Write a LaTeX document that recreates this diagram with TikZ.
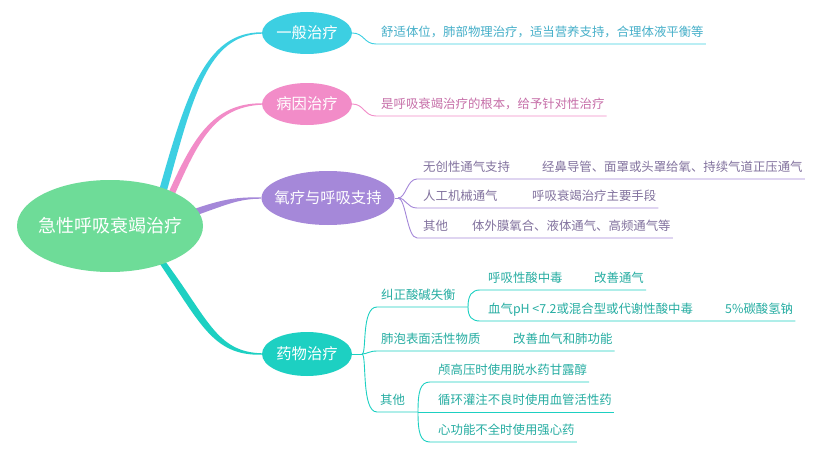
\documentclass[tikz,border=0pt]{standalone}
\usepackage{fontspec}
\setmainfont{Noto Sans CJK SC}
\usepackage{tikz}
\usetikzlibrary{shapes,arrows,positioning,backgrounds}
\definecolor{rootc}{HTML}{6EDC98}
\definecolor{genc}{HTML}{3CCFE2}
\definecolor{gent}{HTML}{45AFC9}
\definecolor{cauc}{HTML}{F28CC8}
\definecolor{caut}{HTML}{C66EA8}
\definecolor{purc}{HTML}{A588D9}
\definecolor{purt}{HTML}{82729E}
\definecolor{drugc}{HTML}{1DD0C2}
\definecolor{drugt}{HTML}{26ADA2}
\tikzstyle{root} = [ellipse, fill=rootc, text=white, minimum width=186pt, minimum height=92pt, inner xsep=-20pt, font=\fontsize{18}{20}\selectfont]
\tikzstyle{topic} = [ellipse, text=white, minimum width=90pt, minimum height=42pt, inner sep=0pt, font=\fontsize{15.3}{17}\selectfont]
\tikzstyle{leaf} = [anchor=south west, inner xsep=0pt, inner ysep=4pt, text depth=3pt, font=\fontsize{12.4}{14}\selectfont]
\tikzstyle{line} = [draw, line width=0.9pt]

\begin{document}
\begin{tikzpicture}[x=1pt, y=-1pt]
			\useasboundingbox (0,0) rectangle (824,452);
			\node [root] (root) at (110,226) {急性呼吸衰竭治疗};
			\node [topic, fill=genc] (gen) at (307,33) {一般治疗};
			\node [topic, fill=cauc] (cau) at (307,104) {病因治疗};
			\node [topic, fill=purc, minimum width=133pt, minimum height=54pt, inner xsep=-12pt] (pur) at (328,198) {氧疗与呼吸支持};
			\node [topic, fill=drugc, minimum height=44pt] (drug) at (307,354) {药物治疗};
			
			\begin{scope}[on background layer]
			\fill [white] (0,0) rectangle (824,452);
			\fill [genc] ([shift={(48,-32)}]root.center) .. controls (186,95) and (205,32) .. ([shift={(0,-0.7)}]gen.west) -- ([shift={(0,0.7)}]gen.west) .. controls (207,35) and (193,97) .. ([shift={(56,-32)}]root.center) -- cycle;
			\fill [cauc] ([shift={(57,-30)}]root.center) .. controls (192,140) and (212,103) .. ([shift={(0,-0.7)}]cau.west) -- ([shift={(0,0.7)}]cau.west) .. controls (214,107) and (198,142) .. ([shift={(64,-30)}]root.center) -- cycle;
			\fill [purc] ([shift={(80,-15.5)}]root.center) .. controls (225,198) and (238,197.3) .. ([shift={(0,-0.7)}]pur.west) -- ([shift={(0,0.7)}]pur.west) .. controls (238,198.7) and (226,205) .. ([shift={(80,-8.5)}]root.center) -- cycle;
			\fill [drugc] ([shift={(46.5,33)}]root.center) .. controls (200,322) and (212,356) .. ([shift={(0,0.7)}]drug.west) -- ([shift={(0,-0.7)}]drug.west) .. controls (216,352) and (208,318) .. ([shift={(53.5,33)}]root.center) -- cycle;
			\end{scope}
			
			\node [leaf, text=gent] (gen1) at (381,44) {舒适体位，肺部物理治疗，适当营养支持，合理体液平衡等};
			\path [line, draw=genc] (gen.east) .. controls +(12,0) and +(-12,0) .. ([shift={(-5,0)}]gen1.south west) -- ([shift={(2,0)}]gen1.south east);
			
			\node [leaf, text=caut] (cau1) at (381,116) {是呼吸衰竭治疗的根本，给予针对性治疗};
			\path [line, draw=cauc] (cau.east) .. controls +(12,0) and +(-12,0) .. ([shift={(-5,0)}]cau1.south west) -- ([shift={(2,0)}]cau1.south east);
			
			\coordinate (pfork) at (398,198);
			\node [leaf, text=purt] (nv) at (423,179) {无创性通气支持};
			\node [leaf, text=purt] (nvd) at (542,179) {经鼻导管、面罩或头罩给氧、持续气道正压通气};
			\node [leaf, text=purt] (mv) at (423,208) {人工机械通气};
			\node [leaf, text=purt] (mvd) at (532,208) {呼吸衰竭治疗主要手段};
			\node [leaf, text=purt] (po) at (423,238) {其他};
			\node [leaf, text=purt] (pod) at (472,238) {体外膜氧合、液体通气、高频通气等};
			\path [line, draw=purc] (pur.east) -- (pfork);
			\path [line, draw=purc] (pfork) .. controls +(8,0) and +(-10,0) .. ([shift={(-6,0)}]nv.south west) -- ([shift={(2,0)}]nvd.south east);
			\path [line, draw=purc] (pfork) .. controls +(8,0) and +(-10,0) .. ([shift={(-6,0)}]mv.south west) -- ([shift={(2,0)}]mvd.south east);
			\path [line, draw=purc] (pfork) .. controls +(8,0) and +(-10,0) .. ([shift={(-6,0)}]po.south west) -- ([shift={(2,0)}]pod.south east);
			
			\coordinate (dfork) at (362,354);
			\coordinate (afork) at (468,307);
			\coordinate (ofork) at (418,412);
			\node [leaf, text=drugt] (acid) at (381,307) {纠正酸碱失衡};
			\node [leaf, text=drugt] (ra) at (488,290) {呼吸性酸中毒};
			\node [leaf, text=drugt] (rad) at (594,290) {改善通气};
			\node [leaf, text=drugt] (ma) at (488,321) {血气pH <7.2或混合型或代谢性酸中毒};
			\node [leaf, text=drugt] (mad) at (725,321) {5\%碳酸氢钠};
			\node [leaf, text=drugt] (surf) at (381,351) {肺泡表面活性物质};
			\node [leaf, text=drugt] (surfd) at (513,351) {改善血气和肺功能};
			\node [leaf, text=drugt] (doth) at (380,412) {其他};
			\node [leaf, text=drugt] (icp) at (438,382) {颅高压时使用脱水药甘露醇};
			\node [leaf, text=drugt] (circ) at (438,412) {循环灌注不良时使用血管活性药};
			\node [leaf, text=drugt] (heart) at (438,442) {心功能不全时使用强心药};
			\path [line, draw=drugc] (drug.east) -- (dfork);
			\path [line, draw=drugc] (dfork) .. controls +(5,0) and +(-16,0) .. ([shift={(-4,0)}]acid.south west) -- (afork);
			\path [line, draw=drugc] (afork) .. controls +(0,-12) and +(-8,0) .. ([shift={(-8,0)}]ra.south west) -- ([shift={(2,0)}]rad.south east);
			\path [line, draw=drugc] (afork) .. controls +(0,10) and +(-8,0) .. ([shift={(-8,0)}]ma.south west) -- ([shift={(2,0)}]mad.south east);
			\path [line, draw=drugc] (dfork) .. controls +(5,0) and +(-8,0) .. ([shift={(-4,0)}]surf.south west) -- ([shift={(2,0)}]surfd.south east);
			\path [line, draw=drugc] (dfork) .. controls +(5,0) and +(-16,0) .. ([shift={(-3,0)}]doth.south west) -- (ofork);
			\path [line, draw=drugc] (ofork) .. controls +(0,-20) and +(-10,0) .. ([shift={(-8,0)}]icp.south west) -- ([shift={(2,0)}]icp.south east);
			\path [line, draw=drugc] (ofork) -- ([shift={(2,0)}]circ.south east);
			\path [line, draw=drugc] (ofork) .. controls +(0,20) and +(-10,0) .. ([shift={(-8,0)}]heart.south west) -- ([shift={(2,0)}]heart.south east);
		\end{tikzpicture}
\end{document}
